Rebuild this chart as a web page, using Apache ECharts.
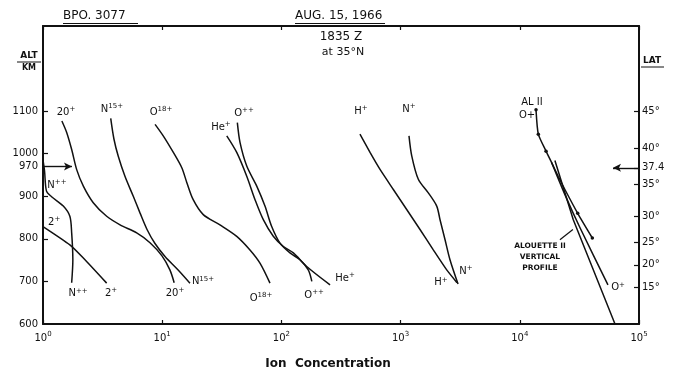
<!DOCTYPE html>
<html>
<head>
<meta charset="utf-8">
<script src="https://cdn.jsdelivr.net/npm/echarts@6/dist/echarts.min.js"></script>
<style>
  html, body { margin: 0; padding: 0; background: #fff; }
  #chart { width: 675px; height: 374px; }
</style>
</head>
<body>
<div id="chart"></div>
<script>
// Ion concentration vs altitude, BPO 3077, Aug 15 1966
const altLabelTicks = [600, 700, 800, 900, 970, 1000, 1100];
const altTickMarks = [700, 800, 900, 1000, 1100];
const latLabels = ['45°', '40°', '37.4', '35°', '30°', '25°', '20°', '15°'];
const latAlt = [1100, 1013, 967, 928, 852, 791, 739, 687];

const nppConc = [1.0, 1.03, 1.07, 1.18, 1.48, 1.68, 1.74, 1.78, 1.74];
const nppAlt = [985, 960, 912, 899, 877, 853, 814, 751, 697];

const twoConc = [1.0, 1.68, 2.18, 3.42];
const twoAlt = [829, 786, 755, 696];

const twentyConc = [1.44, 1.58, 1.74, 1.92, 2.18, 2.64, 3.42, 4.43, 6.11, 7.9, 9.96, 11.6, 12.6];
const twentyAlt = [1077, 1050, 1010, 962, 924, 885, 853, 833, 814, 791, 760, 727, 697];

const n15Conc = [3.7, 3.94, 4.28, 4.87, 5.72, 6.51, 7.46, 8.7, 10.6, 13.6, 17.1];
const n15Alt = [1083, 1034, 994, 947, 900, 861, 822, 789, 758, 727, 696];

const o18Conc = [8.71, 10.2, 12.4, 14.6, 16.1, 18.2, 22.1, 30.5, 42.2, 54.5, 66.1, 80.2];
const o18Alt = [1069, 1042, 1003, 967, 932, 892, 857, 833, 806, 774, 743, 696];

const heConc = [34.8, 42.2, 51.2, 60.1, 70.5, 85.5, 104, 126, 163, 256];
const heAlt = [1042, 1003, 947, 892, 845, 806, 782, 767, 735, 692];

const oppConc = [42.7, 45.0, 51.2, 62.1, 72.8, 82.9, 97.3, 118, 143, 168, 180];
const oppAlt = [1073, 1026, 971, 924, 877, 829, 790, 767, 751, 727, 700];

const hConc = [456, 554, 672, 869, 1125, 1455, 1881, 2437, 2973];
const hAlt = [1046, 1003, 963, 916, 869, 822, 774, 727, 697];

const nConc = [1176, 1240, 1408, 1708, 2009, 2142, 2360, 2596, 3033];
const nAlt = [1042, 995, 940, 908, 877, 845, 798, 751, 694];

// Alouette II O+ measurements (line + dots)
const alConc = [13680, 14300, 16600, 18500, 21000, 23900, 30600, 40600];
const alAlt = [1103, 1046, 1006, 979, 947, 916, 860, 802];
const alDotConc = [13680, 14300, 16600, 30600, 40600];
const alDotAlt = [1103, 1046, 1006, 860, 802];

const profConc = [19700, 28100, 62900];
const profAlt = [984, 845, 600];

const opModelConc = [18500, 23900, 32000, 54900];
const opModelAlt = [979, 904, 826, 692];

const pointerConc = [21700, 27900];
const pointerAlt = [798, 822];

// curve labels
const annText = [
  '20{s|+}', 'N{s|15+}', 'O{s|18+}', 'He{s|+}', 'O{s|++}', 'H{s|+}', 'N{s|+}', 'AL II', 'O+',
  'N{s|++}', '2{s|+}',
  'N{s|++}', '2{s|+}', '20{s|+}', 'N{s|15+}', 'O{s|18+}', 'O{s|++}', 'He{s|+}', 'H{s|+}', 'N{s|+}', 'O{s|+}',
  '{t|ALOUETTE II}\n{t|VERTICAL}\n{t|PROFILE}'
];
const annConc = [1.56, 3.79, 9.77, 31.1, 48.6, 465, 1176, 12660, 11500,
  1.31, 1.24,
  1.97, 3.72, 12.8, 22.0, 67.4, 188, 342, 2183, 3540, 66700,
  14760];
const annAlt = [1098, 1105, 1098, 1062, 1095, 1100, 1105, 1121, 1089,
  925, 838,
  671, 673, 673, 699, 661, 668, 708, 697, 723, 685,
  758];

const INK = '#111';
const FONT = 'DejaVu Sans';

function pairs(xs, ys) {
  return xs.map((x, i) => [x, ys[i]]);
}

function curve(name, xs, ys, smooth) {
  return {
    name: name,
    type: 'line',
    data: pairs(xs, ys),
    smooth: smooth,
    symbol: 'none',
    silent: true,
    lineStyle: { color: INK, width: 1.5 }
  };
}

const chart = echarts.init(document.getElementById('chart'));

const axisBase = {
  type: 'log',
  logBase: 10,
  min: 1,
  max: 100000,
  axisLine: { show: true, lineStyle: { color: INK, width: 2 } },
  axisTick: { show: true, inside: true, length: 4, lineStyle: { color: INK, width: 1.2 } },
  splitLine: { show: false },
  minorTick: { show: false }
};

const option = {
  animation: false,
  backgroundColor: '#fff',
  textStyle: { fontFamily: FONT },
  grid: { left: 43, right: 36, top: 26, bottom: 50, containLabel: false, outerBoundsMode: 'none' },
  xAxis: [
    Object.assign({}, axisBase, {
      position: 'bottom',
      axisLabel: {
        margin: 7,
        color: INK,
        formatter: v => '{b|10}{e|' + Math.round(Math.log10(v)) + '}',
        rich: {
          b: { fontSize: 10, fontFamily: FONT, color: INK, lineHeight: 14 },
          e: { fontSize: 7, fontFamily: FONT, color: INK, verticalAlign: 'top', lineHeight: 8 }
        }
      }
    }),
    Object.assign({}, axisBase, {
      position: 'top',
      axisLabel: { show: false }
    })
  ],
  yAxis: [
    {
      type: 'value',
      position: 'left',
      min: 600,
      max: 1300,
      axisLine: { show: true, lineStyle: { color: INK, width: 2 } },
      axisTick: { show: true, inside: true, length: 5, customValues: altTickMarks, lineStyle: { color: INK, width: 1.2 } },
      axisLabel: {
        customValues: altLabelTicks,
        margin: 5,
        fontSize: 10,
        color: INK,
        fontFamily: FONT,
        formatter: v => String(v)
      },
      splitLine: { show: false }
    },
    {
      type: 'value',
      position: 'right',
      min: 600,
      max: 1300,
      axisLine: { show: true, lineStyle: { color: INK, width: 2 } },
      axisTick: { show: true, inside: true, length: 5, customValues: latAlt, lineStyle: { color: INK, width: 1.2 } },
      axisLabel: {
        customValues: latAlt,
        margin: 3,
        fontSize: 10,
        color: INK,
        fontFamily: FONT,
        formatter: v => {
          let best = 0;
          latAlt.forEach((a, i) => { if (Math.abs(a - v) < Math.abs(latAlt[best] - v)) best = i; });
          return latLabels[best];
        }
      },
      splitLine: { show: false }
    }
  ],
  series: [
    curve('N++', nppConc, nppAlt, 0.3),
    curve('2+', twoConc, twoAlt, 0.2),
    curve('20+', twentyConc, twentyAlt, 0.3),
    curve('N15+', n15Conc, n15Alt, 0.3),
    curve('O18+', o18Conc, o18Alt, 0.3),
    curve('He+', heConc, heAlt, 0.3),
    curve('O++', oppConc, oppAlt, 0.3),
    curve('H+', hConc, hAlt, 0.2),
    curve('N+', nConc, nAlt, 0.3),
    curve('AL II O+', alConc, alAlt, 0.2),
    curve('Alouette II profile', profConc, profAlt, 0),
    curve('O+', opModelConc, opModelAlt, 0.2),
    Object.assign(curve('pointer', pointerConc, pointerAlt, 0), {
      lineStyle: { color: INK, width: 1.2 },
      markLine: {
        silent: true,
        symbol: ['none', 'arrow'],
        symbolSize: [6, 8],
        label: { show: false },
        lineStyle: { color: INK, width: 1.4, type: 'solid' },
        data: [
          [{ coord: [1, 970] }, { coord: [1.75, 970] }],
          [{ coord: [100000, 967] }, { coord: [60500, 967] }]
        ]
      }
    }),
    {
      name: 'AL II dots',
      type: 'scatter',
      data: pairs(alDotConc, alDotAlt),
      symbol: 'circle',
      symbolSize: 3.5,
      silent: true,
      itemStyle: { color: INK, opacity: 1 }
    },
    {
      name: 'labels',
      type: 'scatter',
      data: pairs(annConc, annAlt).map((p, i) => ({ value: p, label: { formatter: annText[i] } })),
      symbol: 'circle',
      symbolSize: 1,
      silent: true,
      itemStyle: { color: 'rgba(0,0,0,0)', opacity: 1 },
      label: {
        show: true,
        position: 'inside',
        color: INK,
        fontFamily: FONT,
        fontSize: 10,
        lineHeight: 13,
        rich: {
          s: { fontSize: 7, fontFamily: FONT, color: INK, verticalAlign: 'top', lineHeight: 8 },
          t: { fontSize: 7.5, fontWeight: 'bold', fontFamily: FONT, color: INK, lineHeight: 11, align: 'center' }
        }
      }
    }
  ],
  graphic: [
    { type: 'text', left: 63, top: 10, style: { text: 'BPO. 3077', fontSize: 12, fontFamily: FONT, fill: INK } },
    { type: 'line', shape: { x1: 63, y1: 23.5, x2: 138, y2: 23.5 }, style: { stroke: INK, lineWidth: 1 } },
    { type: 'text', left: 295, top: 10, style: { text: 'AUG. 15, 1966', fontSize: 12, fontFamily: FONT, fill: INK } },
    { type: 'line', shape: { x1: 295, y1: 23.5, x2: 385, y2: 23.5 }, style: { stroke: INK, lineWidth: 1 } },
    { type: 'text', x: 341, y: 37, style: { text: '1835 Z', fontSize: 12, fontFamily: FONT, fill: INK, align: 'center', verticalAlign: 'middle' } },
    { type: 'text', x: 343, y: 52, style: { text: 'at 35°N', fontSize: 11, fontFamily: FONT, fill: INK, align: 'center', verticalAlign: 'middle' } },
    { type: 'text', x: 29, y: 56, style: { text: 'ALT', fontSize: 9, fontWeight: 'bold', fontFamily: FONT, fill: INK, align: 'center', verticalAlign: 'middle' } },
    { type: 'line', shape: { x1: 17, y1: 62, x2: 41, y2: 62 }, style: { stroke: INK, lineWidth: 1 } },
    { type: 'text', x: 29, y: 67.5, style: { text: 'KM', fontSize: 8, fontWeight: 'bold', fontFamily: FONT, fill: INK, align: 'center', verticalAlign: 'middle' } },
    { type: 'text', x: 652, y: 61, style: { text: 'LAT', fontSize: 9, fontWeight: 'bold', fontFamily: FONT, fill: INK, align: 'center', verticalAlign: 'middle' } },
    { type: 'line', shape: { x1: 641, y1: 67, x2: 664, y2: 67 }, style: { stroke: INK, lineWidth: 1 } },
    { type: 'text', x: 328, y: 364, style: { text: 'Ion  Concentration', fontSize: 12, fontWeight: 'bold', fontFamily: FONT, fill: INK, align: 'center', verticalAlign: 'middle' } }
  ]
};

chart.setOption(option);
</script>
</body>
</html>
